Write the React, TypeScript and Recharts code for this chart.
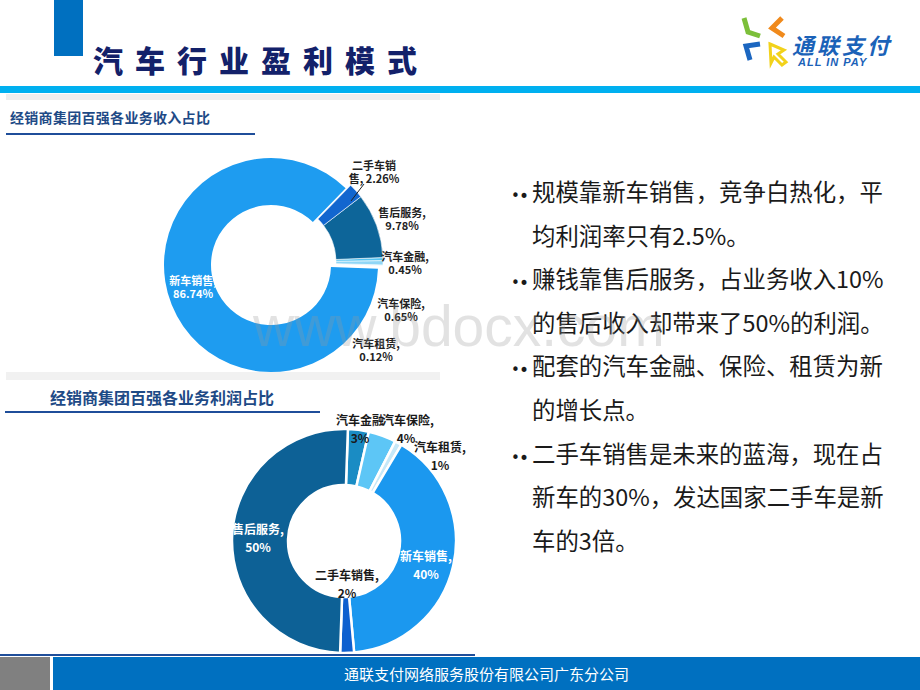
import React from 'react';
import { PieChart, Pie, Cell } from 'recharts';

// 收入占比 (counter-clockwise from 3 o'clock)
const revenueNames = ['汽车租赁', '汽车保险', '汽车金融', '售后服务', '二手车销售', '新车销售'];
const revenueShares = [0.12, 0.65, 0.45, 9.78, 2.26, 86.74];
const revenueColors = ['#c3e7f8', '#8fd6f6', '#56c4f2', '#0d6599', '#1266cf', '#1e9cf0'];

// 利润占比 (clockwise from 12 o'clock)
const profitNames = ['汽车金融', '汽车保险', '汽车租赁', '新车销售', '二手车销售', '售后服务'];
const profitShares = [3, 4, 1, 40, 2, 50];
const profitColors = ['#1a8cc4', '#5dc6f6', '#c6e8f8', '#1b98ef', '#0d5fcf', '#0d6196'];

const pointLines = [
  ['规模靠新车销售，竞争白热化，平', '均利润率只有2.5%。'],
  ['赚钱靠售后服务，占业务收入10%', '的售后收入却带来了50%的利润。'],
  ['配套的汽车金融、保险、租赁为新', '的增长点。'],
  ['二手车销售是未来的蓝海，现在占', '新车的30%，发达国家二手车是新', '车的3倍。'],
];

const revenueData = revenueNames.map((name, i) => ({ name, value: revenueShares[i] }));
const profitData = profitNames.map((name, i) => ({ name, value: profitShares[i] }));

const FONT = '"Noto Sans CJK SC", "Noto Sans", sans-serif';

// label anchor offsets from pie centre
const topSpots = [[105, 78], [130, 38], [134, -9], [131, -53], [103, -100], [-78, 15]];
const bottomSpots = [[16, -122], [62, -122], [96, -95], [82, 14], [3, 33], [-86, -13]];

const renderTopLabel = (p: any) => {
  const i = p.index;
  const [dx, dy] = topSpots[i];
  const x = p.cx + dx;
  const y = p.cy + dy;
  const name = revenueNames[i];
  const val = `${revenueShares[i].toFixed(2)}%`;
  const l1 = name.length > 4 ? name.slice(0, 4) : name + ',';
  const l2 = name.length > 4 ? `${name.slice(4)}, ${val}` : val;
  const fill = i === 5 ? '#ffffff' : '#222222';
  return (
    <g key={`tl-${i}`}>
      {i === 4 && <line x1={p.cx + 93} y1={p.cy - 81} x2={p.cx + 80} y2={p.cy - 64} stroke="#222" strokeWidth={1} />}
      <text x={x} y={y} fill={fill} fontSize={11} fontWeight={600} fontFamily={FONT} textAnchor="middle" dominantBaseline="central">{l1}</text>
      <text x={x} y={y + 13} fill={fill} fontSize={11} fontWeight={600} fontFamily={FONT} textAnchor="middle" dominantBaseline="central">{l2}</text>
    </g>
  );
};

const renderBottomLabel = (p: any) => {
  const i = p.index;
  const [dx, dy] = bottomSpots[i];
  const x = p.cx + dx;
  const y = p.cy + dy;
  const fill = i === 3 || i === 5 ? '#ffffff' : '#1a1a1a';
  // 汽车金融 runs straight into 汽车保险 in the original, its comma hidden
  const l1 = i === 0 ? profitNames[i] : `${profitNames[i]},`;
  const anchor = i === 0 ? 'end' : i === 1 ? 'start' : 'middle';
  const lx = i === 0 ? x + 24 : i === 1 ? x - 24 : x;
  return (
    <g key={`bl-${i}`}>
      <text x={lx} y={y} fill={fill} fontSize={12} fontWeight={700} fontFamily={FONT} textAnchor={anchor} dominantBaseline="central">{l1}</text>
      <text x={x} y={y + 18} fill={fill} fontSize={12} fontWeight={700} fontFamily={FONT} textAnchor="middle" dominantBaseline="central">{profitShares[i]}%</text>
    </g>
  );
};

const abs = (s: React.CSSProperties): React.CSSProperties => ({ position: 'absolute', ...s });

const Logo = () => (
  <div style={abs({ left: 738, top: 14, width: 170, height: 56 })}>
    <svg width={56} height={56} style={{ position: 'absolute', left: 0, top: 0 }}>
      <polyline points="6,4 10,18 22,22" fill="none" stroke="#7cbf3a" strokeWidth={5} />
      <polyline points="44,4 34,14 46,22" fill="none" stroke="#f08a1c" strokeWidth={5} />
      <polyline points="22,30 8,32 12,46" fill="none" stroke="#1b66c0" strokeWidth={5} />
      <polygon points="32,30 46,36 40,40 48,48 44,51 36,43 33,49" fill="#fff" stroke="#f2d21b" strokeWidth={3} />
    </svg>
    <div style={abs({ left: 54, top: 18, fontFamily: FONT, fontWeight: 700, fontStyle: 'italic', fontSize: 22, letterSpacing: 3, color: '#1b62b8', lineHeight: '24px' })}>通联支付</div>
    <div style={abs({ left: 60, top: 42, fontFamily: '"Liberation Sans", sans-serif', fontWeight: 700, fontStyle: 'italic', fontSize: 11, letterSpacing: 1, color: '#1b62b8', lineHeight: '12px' })}>ALL IN PAY</div>
  </div>
);

const App: React.FC = () => {
  let row = 0;
  return (
    <div style={{ position: 'relative', width: 920, height: 690, background: '#ffffff', overflow: 'hidden', fontFamily: FONT }}>
      <style>{'body{margin:0}'}</style>

      {/* header */}
      <div style={abs({ left: 54, top: 0, width: 29, height: 56, background: '#0070c0' })} />
      <div style={abs({ left: 93, top: 44, fontSize: 30, fontWeight: 900, letterSpacing: 12, color: '#13216a', lineHeight: '30px', whiteSpace: 'nowrap' })}>汽车行业盈利模式</div>
      <div style={abs({ left: 0, top: 86, width: 920, height: 7, background: '#00b0f0' })} />
      <Logo />

      {/* panels */}
      <div style={abs({ left: 6, top: 94, width: 434, height: 6, background: '#eeeeee' })} />
      <div style={abs({ left: 6, top: 372, width: 434, height: 8, background: '#f1f1f1' })} />
      <div style={abs({ left: 10, top: 108, fontSize: 14, fontWeight: 700, color: '#1e4a86', lineHeight: '18px', letterSpacing: 0.3, whiteSpace: 'nowrap' })}>经销商集团百强各业务收入占比</div>
      <div style={abs({ left: 6, top: 133, width: 249, height: 2, background: '#1f4e9a' })} />
      <div style={abs({ left: 50, top: 387, fontSize: 16, fontWeight: 700, color: '#1e4a86', lineHeight: '20px', whiteSpace: 'nowrap' })}>经销商集团百强各业务利润占比</div>
      <div style={abs({ left: 5, top: 411, width: 315, height: 2, background: '#1f4e9a' })} />

      <div style={abs({ left: 0, top: 0 })}>
        <PieChart width={920} height={690} margin={{ top: 0, right: 0, bottom: 0, left: 0 }}>
          <Pie
            data={revenueData}
            dataKey="value"
            nameKey="name"
            cx={271}
            cy={265}
            innerRadius={60}
            outerRadius={107}
            startAngle={-2}
            endAngle={358}
            label={renderTopLabel}
            labelLine={false}
            isAnimationActive={false}
          >
            {revenueData.map((d, i) => (
              <Cell key={d.name} fill={i === 5 ? revenueColors[i] : 'transparent'} stroke="none" />
            ))}
          </Pie>
          <Pie
            data={revenueData}
            dataKey="value"
            nameKey="name"
            cx={276}
            cy={262}
            innerRadius={60}
            outerRadius={107}
            startAngle={-2}
            endAngle={358}
            isAnimationActive={false}
          >
            {revenueData.map((d, i) => (
              <Cell key={d.name} fill={i === 5 ? 'transparent' : revenueColors[i]} stroke={i === 5 ? 'none' : '#ffffff'} strokeWidth={0.6} />
            ))}
          </Pie>
          <Pie
            data={profitData}
            dataKey="value"
            nameKey="name"
            cx={344}
            cy={541}
            innerRadius={56}
            outerRadius={112}
            startAngle={88}
            endAngle={-272}
            label={renderBottomLabel}
            labelLine={false}
            isAnimationActive={false}
          >
            {profitData.map((d, i) => (
              <Cell key={d.name} fill={profitColors[i]} stroke="#ffffff" strokeWidth={2.5} />
            ))}
          </Pie>
        </PieChart>
      </div>

      {/* bullet text */}
      {pointLines.map((para, pi) =>
        para.map((line, li) => {
          const top = 170 + row * 43.6;
          row += 1;
          return (
            <React.Fragment key={`${pi}-${li}`}>
              {li === 0 && (
                <>
                  <div style={abs({ left: 511, top: top + 5, width: 10, fontFamily: '"DejaVu Sans", sans-serif', fontSize: 15, lineHeight: '43px', color: '#1a1a1a' })}>•</div>
                  <div style={abs({ left: 519, top: top + 5, width: 10, fontFamily: '"DejaVu Sans", sans-serif', fontSize: 17, lineHeight: '43px', color: '#1a1a1a' })}>•</div>
                </>
              )}
              <div style={abs({ left: 532, top, fontSize: 23.4, lineHeight: '43px', color: '#1a1a1a', whiteSpace: 'nowrap' })}>{line}</div>
            </React.Fragment>
          );
        })
      )}

      {/* footer */}
      <div style={abs({ left: 0, top: 654, width: 475, height: 2, background: '#1f4e9a' })} />
      <div style={abs({ left: 0, top: 657, width: 50, height: 33, background: '#808080' })} />
      <div style={abs({ left: 53, top: 657, width: 867, height: 33, background: '#0070c0' })} />
      <div style={abs({ left: 53, top: 657, width: 867, height: 33, lineHeight: '33px', textAlign: 'center', color: '#ffffff', fontSize: 15, whiteSpace: 'nowrap' })}>通联支付网络服务股份有限公司广东分公司</div>

      {/* watermark */}
      <svg width={920} height={690} style={{ position: 'absolute', left: 0, top: 0, pointerEvents: 'none' }}>
        <text x={253} y={346} fontSize={57} fontFamily='"Liberation Sans", Arial, sans-serif' fill="#9a9a9a" opacity={0.28}>www.bdocx.com</text>
      </svg>
    </div>
  );
};

export default App;
